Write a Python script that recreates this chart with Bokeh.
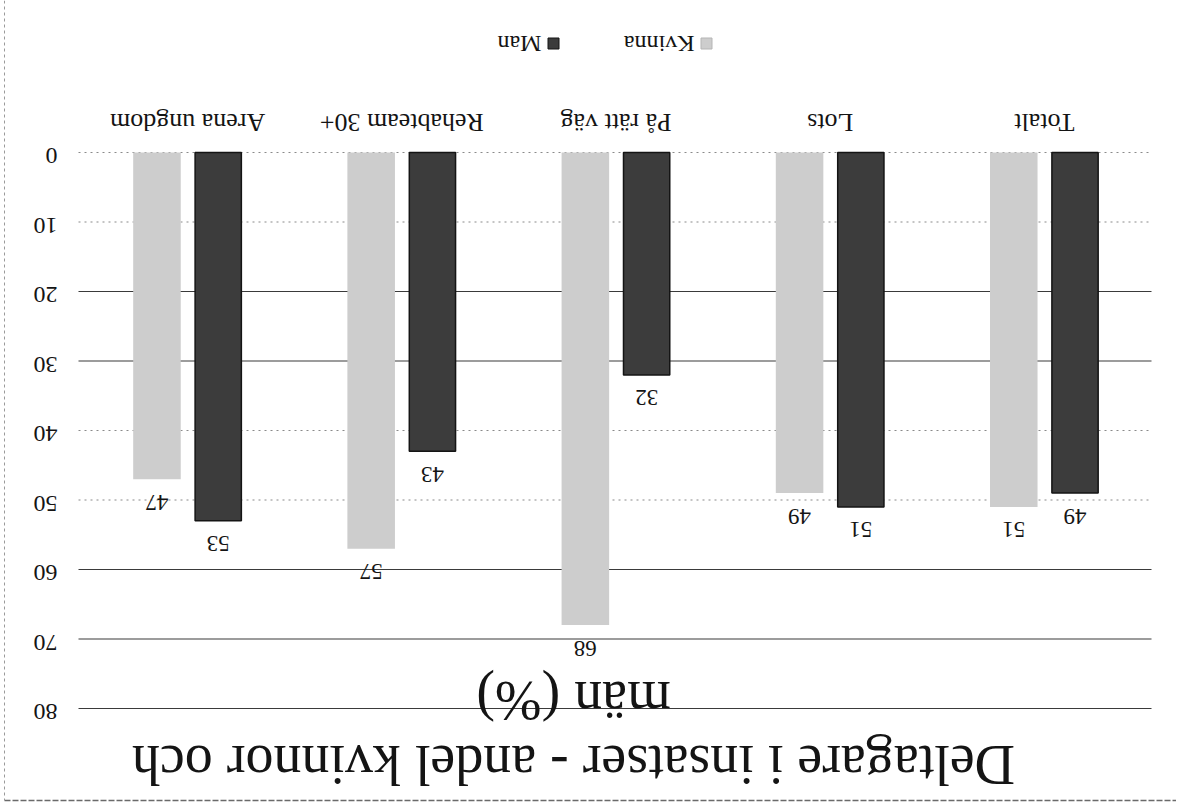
import math
from bokeh.plotting import figure
from bokeh.models import ColumnDataSource, Range1d
from bokeh.transform import dodge
from bokeh.core.properties import value
from bokeh.embed import file_html
from bokeh.resources import INLINE

# ---- data (the reference is shown rotated 180 degrees) ----
categories = ["Arena ungdom", "Rehabteam 30+", "På rätt väg", "Lots", "Totalt"]
kvinna = [47, 57, 68, 49, 51]
man = [53, 43, 32, 51, 49]
series_names = ["Kvinna", "Man"]
y_ticks = [0, 10, 20, 30, 40, 50, 60, 70, 80]
title_lines = ["Deltagare i insatser - andel kvinnor och", "män (%)"]

# ---- layout (screen pixels of the page) ----
W, H = 1176, 803
ORIGIN = 0
X_LEFT_PX, BAND_PX = 80.0, 214.2
Y0_PX, PX_PER_UNIT = 152.0, 6.95
FONT = value("Liberation Serif")
PI = math.pi
DARK, DARK_EDGE, LIGHT = "#3c3c3c", "#141414", "#cdcdcd"
TXT = "#141414"


def x_at(px):
    return (px - X_LEFT_PX) / BAND_PX


def y_at(py):
    return (py - Y0_PX) / PX_PER_UNIT


p = figure(width=W, height=H, output_backend="svg", toolbar_location=None, tools="",
           x_range=Range1d(x_at(ORIGIN), x_at(ORIGIN + W)),
           y_range=Range1d(y_at(ORIGIN + H), y_at(ORIGIN)),
           x_axis_location=None, y_axis_location=None, min_border=0,
           outline_line_color=None, background_fill_color="white",
           border_fill_color="white")
p.grid.visible = False

# ---- chart border (scanned frame edges) ----
p.segment(x0=[x_at(4)], x1=[x_at(1176)], y0=[y_at(800)], y1=[y_at(800)],
          line_color="#6a6a6a", line_width=1.5, line_dash="6 2")
p.segment(x0=[x_at(4)], x1=[x_at(4)], y0=[y_at(0)], y1=[y_at(800)],
          line_color="#9a9a9a", line_width=1, line_dash="3 3")

# ---- gridlines ----
solid = [t for t in y_ticks if t in (20, 30, 60, 70, 80)]
dotted = [t for t in y_ticks if t not in solid]
gx0, gx1 = x_at(78), x_at(1151)
p.segment(x0=[gx0] * len(solid), x1=[gx1] * len(solid), y0=solid, y1=solid,
          line_color="#3a3a3a", line_width=1.2)
p.segment(x0=[gx0] * len(dotted), x1=[gx1] * len(dotted), y0=dotted, y1=dotted,
          line_color="#8a8a8a", line_width=1.2, line_dash="2 4")

# ---- bars ----
x_centers = [i + 0.5 for i in range(len(categories))]
src = ColumnDataSource(dict(
    x=x_centers, cat=categories, kvinna=kvinna, man=man,
    kv_lbl=[str(v) for v in kvinna], man_lbl=[str(v) for v in man],
))
OFF, BW = 0.143, 0.222
p.vbar(x=dodge("x", -OFF, range=p.x_range), top="kvinna", bottom=0, width=BW,
       source=src, fill_color=LIGHT, line_color=None)
p.vbar(x=dodge("x", OFF, range=p.x_range), top="man", bottom=0, width=BW - 0.006,
       source=src, fill_color=DARK, line_color=DARK_EDGE, line_width=1.5)

# ---- value labels ----
common = dict(angle=PI, text_font=FONT, text_color=TXT, text_baseline="middle")
p.text(x=dodge("x", -OFF, range=p.x_range), y="kvinna", text="kv_lbl", source=src,
       text_align="center", y_offset=23, text_font_size="23px", **common)
p.text(x=dodge("x", OFF, range=p.x_range), y="man", text="man_lbl", source=src,
       text_align="center", y_offset=23, text_font_size="23px", **common)

# ---- category labels ----
p.text(x="x", y=0, text="cat", source=src, text_align="center",
       y_offset=-30, text_font_size="26px", **common)

# ---- value axis labels ----
p.text(x=[x_at(57)] * len(y_ticks), y=y_ticks, text=[str(t) for t in y_ticks],
       text_align="left", y_offset=3, text_font_size="24px", **common)

# ---- legend (drawn rotated like the reference) ----
leg_y = [y_at(43)] * 2
p.scatter(x=[x_at(553), x_at(706)], y=leg_y, marker="square", size=11,
          fill_color=[DARK, LIGHT], line_color=[DARK_EDGE, "#b5b5b5"])
p.text(x=[x_at(541), x_at(694)], y=leg_y, text=[series_names[1], series_names[0]],
       text_align="left", text_font_size="24px", **common)

# ---- title (two lines) ----
p.text(x=[x_at(573)] * 2, y=[y_at(764), y_at(700)], text=title_lines,
       text_align="center", text_font_size="56px", **common)

open("out.html", "w").write(file_html(p, INLINE))
